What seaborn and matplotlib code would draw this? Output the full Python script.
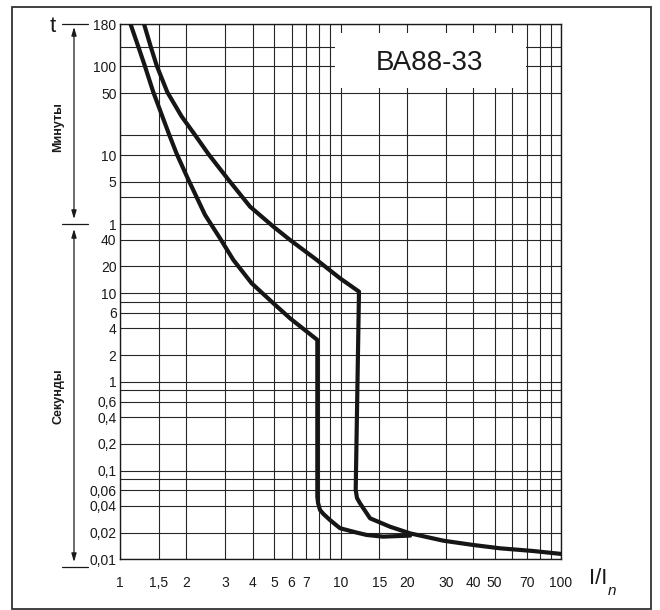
import numpy as np
import pandas as pd
import matplotlib
matplotlib.use('Agg')
import matplotlib.pyplot as plt
from matplotlib.patches import Rectangle
from matplotlib.ticker import NullFormatter
import seaborn as sns

# время-токовые характеристики ВА88-33, t в секундах
# кривая B (левая)
b_I = [1.116, 1.232, 1.296, 1.416, 1.673, 1.808, 2.028, 2.43, 2.84, 3.265, 3.956,
       4.96, 5.90, 7.85, 7.85, 7.91, 8.07, 8.36, 8.96, 9.95, 11.84, 13.15, 15.6, 20.7]
b_t = [10800, 5280, 3641, 1841, 607, 371, 197, 76.2, 41.6, 23.7, 12.9,
       7.69, 5.21, 2.97, 0.0508, 0.0431, 0.036, 0.0325, 0.0277, 0.0224, 0.0200, 0.0188, 0.0180, 0.0185]
# кривая C (правая)
c_I = [1.285, 1.378, 1.467, 1.639, 1.905, 2.188, 2.515, 3.066, 3.887, 4.96, 5.90, 7.80,
       9.95, 12.13, 11.72, 11.88, 12.26, 13.61, 16.77, 20.7, 29.3, 40.0, 52.9, 74.9, 100]
c_t = [10800, 6012, 3673, 1841, 977, 607, 371, 197, 94.5, 56.2, 39.8, 23.7,
       14.7, 10.4, 0.0604, 0.0491, 0.0428, 0.029, 0.0233, 0.0196, 0.0162, 0.0145, 0.0133, 0.0124, 0.0115]

x_ticks = [1, 1.5, 2, 3, 4, 5, 6, 7, 10, 15, 20, 30, 40, 50, 70, 100]
x_labels = ['1', '1,5', '2', '3', '4', '5', '6', '7', '10', '15', '20', '30', '40', '50', '70', '100']
x_extra = [8, 9, 60, 80, 90]

y_ticks = [0.01, 0.02, 0.04, 0.06, 0.1, 0.2, 0.4, 0.6, 1, 2, 4, 6, 10, 20, 40,
           60, 180, 360, 1800, 3600, 10800]
y_labels = ['0,01', '0,02', '0,04', '0,06', '0,1', '0,2', '0,4', '0,6', '1', '2', '4', '6', '10', '20', '40',
            '1', '5', '10', '50', '100', '180']
y_extra = [0.08, 0.8, 8, 120, 600, 6000]

ink = '#1a1a1a'

sns.set_theme(style='white')
plt.rcParams['font.family'] = ['Liberation Sans', 'DejaVu Sans']

fig = plt.figure(figsize=(6.6, 6.1), dpi=100)
ax = fig.add_axes([120 / 660, 1 - 559.3 / 610, 441 / 660, 535.3 / 610])
ax.set_xscale('log')
ax.set_yscale('log')
ax.set_xlim(1, 100)
ax.set_ylim(0.01, 10800)

ax.set_xticks(x_ticks)
ax.set_xticklabels(x_labels)
ax.set_xticks(x_extra, minor=True)
ax.set_yticks(y_ticks)
ax.set_yticklabels(y_labels)
ax.set_yticks(y_extra, minor=True)
ax.xaxis.set_minor_formatter(NullFormatter())
ax.yaxis.set_minor_formatter(NullFormatter())
ax.tick_params(which='both', length=0, labelsize=10, labelcolor=ink)
ax.tick_params(axis='x', pad=12)
ax.tick_params(axis='y', pad=2.5)
ax.grid(True, which='both', color='#262626', lw=0.8)
ax.set_axisbelow(True)
for sp in ax.spines.values():
    sp.set_color(ink)
    sp.set_linewidth(1.0)

df = pd.DataFrame({'I': b_I + c_I, 't': b_t + c_t,
                   'curve': ['B'] * len(b_I) + ['C'] * len(c_I)})
sns.lineplot(data=df, x='I', y='t', units='curve', estimator=None, sort=False,
             color='#161616', linewidth=3, ax=ax, zorder=3)
ax.set_xlabel('')
ax.set_ylabel('')

# белая плашка с названием
ax.add_patch(Rectangle((0.4875, 0.880), 0.4325, 0.103, transform=ax.transAxes,
                       facecolor='white', edgecolor='none', zorder=1.5))
ax.text(0.702, 0.928, 'ВА88-33', transform=ax.transAxes, ha='center', va='center',
        fontsize=20, color=ink, zorder=2)

# подписи вокруг графика в пикселях
ov = fig.add_axes([0, 0, 1, 1], facecolor='none')
ov.set_xlim(0, 660)
ov.set_ylim(610, 0)
ov.set_axis_off()
ov.add_patch(Rectangle((11.7, 6.7), 639.3, 601.8, fill=False, lw=1.3, edgecolor='#333333'))

ov.text(52.7, 31.5, 't', fontsize=16, ha='center', va='baseline', color=ink)
for yy in [24, 224, 566.7]:
    ov.plot([61.7, 88.3], [yy, yy], color=ink, lw=0.9)
arr = dict(arrowstyle='<|-|>,head_length=0.5,head_width=0.15', color=ink, lw=0.9,
           mutation_scale=10, shrinkA=0, shrinkB=0)
ov.annotate('', xy=(74, 27), xytext=(74, 219), arrowprops=arr)
ov.annotate('', xy=(74, 229), xytext=(74, 562), arrowprops=arr)
ov.text(58.3, 126.7, 'Минуты', rotation=90, fontsize=9, fontweight='bold',
        ha='center', va='center', color=ink)
ov.text(58.3, 396, 'Секунды', rotation=90, fontsize=9, fontweight='bold',
        ha='center', va='center', color=ink)

ov.text(589, 579, 'I/I', fontsize=16, ha='left', va='center', color=ink)
ov.text(607.5, 591, 'n', fontsize=11, style='italic', ha='left', va='center', color=ink)

fig.savefig('out.png', dpi=100)
